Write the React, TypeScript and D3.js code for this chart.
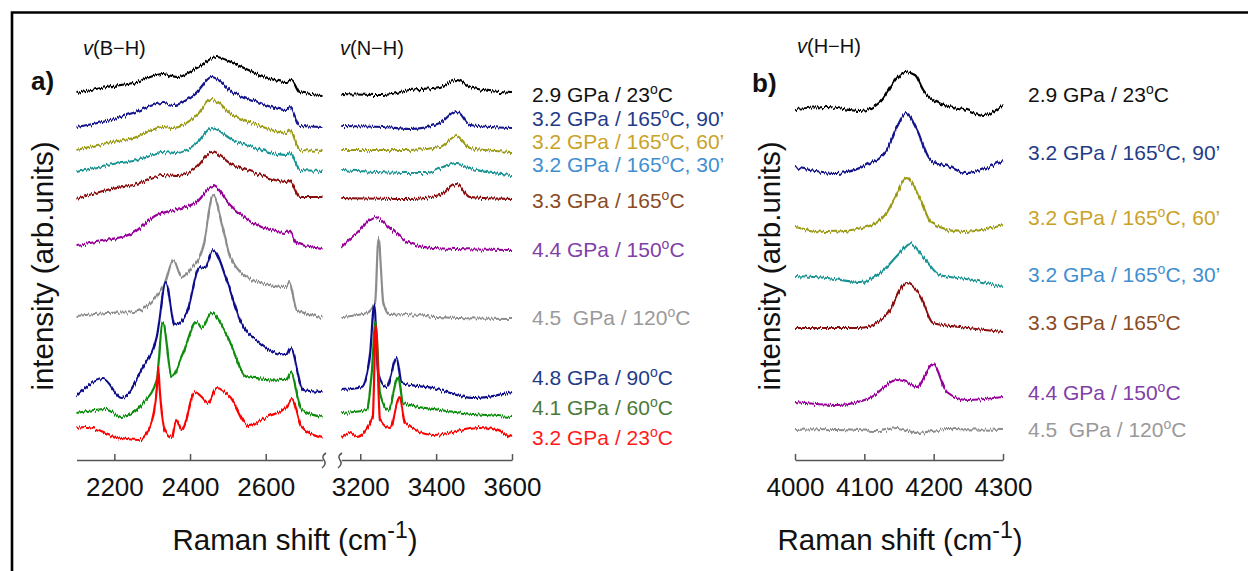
import React, { useEffect, useRef } from "react";
import * as d3 from "d3";

type P = [number, number];

// ---------- data: [Raman shift (cm-1), intensity (arb. units, stacked)] ----------
// panel a, v(B-H) region
const bhBlack: P[] = [[2100,367],[2180,373],[2250,377],[2329,386],[2366,383],[2418,392],[2470,403],[2513,397],[2566,388],[2655,378],[2669,380],[2690,368],[2750,365]];
const bhNavy90: P[] = [[2100,333],[2180,339],[2249,347],[2329,357],[2355,355],[2418,368],[2457,383],[2513,368],[2566,360],[2655,350],[2664,353],[2690,334],[2750,333]];
const bhOlive60: P[] = [[2100,310],[2180,317],[2250,322],[2329,333],[2355,332],[2418,345],[2457,361],[2513,345],[2566,337],[2655,327],[2664,330],[2690,310],[2750,309]];
const bhTeal30: P[] = [[2100,288],[2180,295],[2250,299],[2329,308],[2366,307],[2418,317],[2457,332],[2513,320],[2566,313],[2655,305],[2664,307],[2690,290],[2750,289]];
const bhRed165: P[] = [[2100,261],[2180,270],[2250,275],[2329,285],[2366,284],[2418,293],[2457,308],[2513,295],[2566,288],[2655,278],[2662,280],[2690,263],[2750,263]];
const bhPurple: P[] = [[2100,215],[2180,220],[2249,227],[2312,245],[2356,250],[2418,258],[2461,274],[2506,255],[2566,237],[2655,228],[2662,230],[2682,217],[2750,211]];
const bhGray: P[] = [[2100,144],[2180,147],[2250,148],[2303,160],[2334,177],[2356,200],[2378,183],[2400,190],[2435,213],[2461,265],[2488,230],[2506,203],[2566,180],[2655,173],[2662,178],[2682,150],[2750,143]];
const bhNavy48: P[] = [[2100,64],[2171,81],[2219,62],[2276,93],[2312,123],[2336,177],[2360,135],[2391,147],[2426,193],[2439,192],[2461,210],[2497,180],[2532,140],[2585,117],[2655,105],[2666,112],[2699,70],[2750,68]];
const bhGreen41: P[] = [[2100,47],[2180,51],[2219,43],[2276,57],[2312,80],[2328,138],[2352,83],[2378,103],[2418,138],[2431,132],[2457,147],[2497,125],[2550,83],[2655,80],[2666,88],[2695,50],[2750,43]];
const bhRed23: P[] = [[2100,32],[2127,33],[2206,23],[2263,20],[2294,33],[2305,48],[2312,70],[2316,92],[2320,70],[2326,45],[2333,30],[2352,23],[2363,40],[2378,30],[2413,68],[2431,63],[2448,57],[2470,72],[2506,63],[2554,35],[2602,43],[2655,53],[2669,61],[2695,33],[2750,22]];

// panel a, v(N-H) region
const nhBlack: P[] = [[3150,366],[3261,365],[3331,370],[3410,373],[3454,380],[3497,372],[3600,367]];
const nhNavy90: P[] = [[3150,334],[3261,333],[3331,331],[3410,337],[3454,349],[3489,335],[3600,332]];
const nhOlive60: P[] = [[3150,310],[3331,310],[3410,313],[3454,324],[3489,312],[3600,308]];
const nhTeal30: P[] = [[3150,290],[3331,287],[3375,287],[3418,293],[3454,297],[3497,291],[3600,285]];
const nhRed165: P[] = [[3150,262],[3331,261],[3410,265],[3454,276],[3489,263],[3600,261]];
const nhPurple: P[] = [[3150,213],[3199,230],[3239,243],[3278,232],[3331,217],[3392,212],[3600,210]];
const nhGray: P[] = [[3150,143],[3217,147],[3239,157],[3248,222],[3261,157],[3278,145],[3322,146],[3400,143],[3600,141]];
const nhNavy48: P[] = [[3150,70],[3204,73],[3225,103],[3237,155],[3247,87],[3269,73],[3296,102],[3309,77],[3392,72],[3497,62],[3600,68]];
const nhGreen41: P[] = [[3150,47],[3217,50],[3230,87],[3240,138],[3252,67],[3274,50],[3300,83],[3313,57],[3410,50],[3600,43]];
const nhRed23: P[] = [[3150,23],[3173,27],[3190,23],[3233,43],[3241,135],[3252,40],[3278,32],[3304,63],[3318,37],[3392,25],[3515,33],[3600,23]];

// panel b, v(H-H) region
const hhBlack: P[] = [[4000,351],[4046,353],[4094,349],[4123,358],[4147,382],[4159,388],[4173,385],[4185,370],[4204,358],[4248,350],[4272,345],[4300,355]];
const hhNavy90: P[] = [[4000,293],[4060,287],[4108,297],[4132,310],[4147,333],[4160,347],[4176,330],[4195,300],[4224,293],[4245,287],[4300,300]];
const hhOlive60: P[] = [[4000,233],[4046,228],[4103,233],[4132,247],[4144,262],[4161,282],[4180,262],[4197,237],[4243,228],[4300,235]];
const hhTeal30: P[] = [[4000,184],[4046,182],[4094,178],[4123,187],[4151,207],[4166,217],[4185,203],[4209,185],[4257,180],[4300,173]];
const hhRed165: P[] = [[4000,132],[4046,132],[4094,132],[4132,145],[4161,177],[4180,165],[4199,137],[4238,133],[4300,128]];
const hhPurple: P[] = [[4000,58],[4060,55],[4108,62],[4147,80],[4161,78],[4176,73],[4199,96],[4219,68],[4248,60],[4300,63]];
const hhGray: P[] = [[4000,30],[4060,31],[4120,29],[4147,32],[4176,27],[4220,31],[4300,30]];

const labels = [
  "2.9 GPa / 23^oC",
  "3.2 GPa / 165^oC, 90’",
  "3.2 GPa / 165^oC, 60’",
  "3.2 GPa / 165^oC, 30’",
  "3.3 GPa / 165^oC",
  "4.4 GPa / 150^oC",
  "4.5  GPa / 120^oC",
  "4.8 GPa / 90^oC",
  "4.1 GPa / 60^oC",
  "3.2 GPa / 23^oC",
];

const ticksBH = [2200, 2400, 2600];
const ticksNH = [3200, 3400, 3600];
const ticksHH = [4000, 4100, 4200, 4300];

// ---------- styles / layout ----------
const lineColors = ["#000000", "#14148c", "#9b9b18", "#1a9494", "#8c1010", "#990099", "#8c8c8c", "#10108c", "#0a8c0a", "#ff0000"];
const textColors = ["#111111", "#1f3c88", "#c9a227", "#3f8fd0", "#8a4a24", "#8040a8", "#999999", "#1f3c88", "#4a7a38", "#ff1a1a"];
const labelYA = [102, 126, 149, 172, 208, 257, 325, 385, 415, 445];
const labelYB = [102, 160, 225, 282, 330, 400, 437];

const FONT = "'Liberation Sans', Arial, Helvetica, sans-serif";
const W = 1248, H = 571;
const AXIS_Y = 460;

const y = d3.scaleLinear().domain([0, 400]).range([AXIS_Y, 60]);
const xBH = d3.scaleLinear().domain([2100, 2750]).range([76.5, 322.5]);
const xNH = d3.scaleLinear().domain([3150, 3600]).range([341.3, 512]);
const xHH = d3.scaleLinear().domain([4000, 4300]).range([795, 1003]);

const bhSeries = [bhBlack, bhNavy90, bhOlive60, bhTeal30, bhRed165, bhPurple, bhGray, bhNavy48, bhGreen41, bhRed23];
const nhSeries = [nhBlack, nhNavy90, nhOlive60, nhTeal30, nhRed165, nhPurple, nhGray, nhNavy48, nhGreen41, nhRed23];
const hhSeries = [hhBlack, hhNavy90, hhOlive60, hhTeal30, hhRed165, hhPurple, hhGray];

function mkLine(x: d3.ScaleLinear<number, number>) {
  return d3.line<P>().x((d) => x(d[0])).y((d) => y(d[1])).curve(d3.curveMonotoneX);
}

function Axis({ scale, ticks }: { scale: d3.ScaleLinear<number, number>; ticks: number[] }) {
  const ref = useRef<SVGGElement>(null);
  useEffect(() => {
    if (!ref.current) return;
    const g = d3.select(ref.current);
    g.selectAll("*").remove();
    g.call(
      d3.axisBottom(scale).tickValues(ticks).tickSizeInner(-6).tickSizeOuter(0).tickPadding(18).tickFormat(d3.format("d"))
    );
    g.select(".domain").attr("stroke", "#555").attr("stroke-width", 1.5);
    g.selectAll(".tick line").attr("stroke", "#555").attr("stroke-width", 1.5);
    g.selectAll(".tick text").attr("font-size", 26).attr("font-family", FONT).attr("fill", "#111");
  }, [scale, ticks]);
  return <g ref={ref} transform={`translate(0,${AXIS_Y})`} />;
}

function Label({ x, yy, text, color }: { x: number; yy: number; text: string; color: string }) {
  const [a, b] = text.split("^o");
  return (
    <text x={x} y={yy} fill={color} fontSize={21} fontFamily={FONT} style={{ whiteSpace: "pre" }}>
      {a}
      <tspan fontSize={14} dy={-8}>o</tspan>
      <tspan dy={8}>{b}</tspan>
    </text>
  );
}

function BreakMark({ x }: { x: number }) {
  const p = `M${x + 2},${AXIS_Y - 7} Q${x - 3},${AXIS_Y - 4} ${x},${AXIS_Y} Q${x + 3},${AXIS_Y + 4} ${x - 2},${AXIS_Y + 8}`;
  return <path d={p} fill="none" stroke="#555" strokeWidth={1.5} />;
}

export default function App() {
  const lBH = mkLine(xBH);
  const lNH = mkLine(xNH);
  const lHH = mkLine(xHH);
  return (
    <svg width={W} height={H} style={{ position: "absolute", left: 0, top: 0, background: "#fff" }} fontFamily={FONT}>
      <defs>
        <filter id="noisy" x="-3%" y="-10%" width="106%" height="120%">
          <feTurbulence type="fractalNoise" baseFrequency="0.7 0.015" numOctaves={2} seed={4} result="t" />
          <feColorMatrix in="t" type="matrix" values="0 0 0 0 0.5  0 2.2 0 0 -0.6  0 0 0 0 0  0 0 0 0 1" result="m" />
          <feDisplacementMap in="SourceGraphic" in2="m" scale={3} xChannelSelector="R" yChannelSelector="G" />
        </filter>
      </defs>
      <rect x={0} y={0} width={W} height={H} fill="#fff" />
      {/* frame */}
      <path d={`M12,${H + 5} V12.5 H${W + 5}`} fill="none" stroke="#000" strokeWidth={2.6} />

      {/* panel a */}
      <text x={31} y={90} fontSize={26} fontWeight="bold" fill="#111">a)</text>
      <text x={83} y={55} fontSize={20} fill="#111"><tspan fontStyle="italic">v</tspan>(B−H)</text>
      <text x={340} y={55} fontSize={20} fill="#111"><tspan fontStyle="italic">v</tspan>(N−H)</text>
      <text transform="translate(53,266) rotate(-90)" textAnchor="middle" fontSize={29.5} fill="#111">intensity (arb.units)</text>

      <g filter="url(#noisy)">
        {bhSeries.map((s, i) => (
          <path key={"bh" + i} d={lBH(s) || ""} fill="none" stroke={lineColors[i]} strokeWidth={2.2} />
        ))}
        {nhSeries.map((s, i) => (
          <path key={"nh" + i} d={lNH(s) || ""} fill="none" stroke={lineColors[i]} strokeWidth={2.2} />
        ))}
      </g>
      <Axis scale={xBH} ticks={ticksBH} />
      <Axis scale={xNH} ticks={ticksNH} />
      <BreakMark x={324} />
      <BreakMark x={340} />
      {labels.map((t, i) => (
        <Label key={"la" + i} x={532} yy={labelYA[i]} text={t} color={textColors[i]} />
      ))}
      <text x={295} y={550} textAnchor="middle" fontSize={29.5} fill="#111">
        Raman shift (cm<tspan fontSize={23} dy={-12}>-1</tspan><tspan dy={12}>)</tspan>
      </text>

      {/* panel b */}
      <text x={752} y={92} fontSize={26} fontWeight="bold" fill="#111">b)</text>
      <text x={797} y={53} fontSize={20} fill="#111"><tspan fontStyle="italic">v</tspan>(H−H)</text>
      <text transform="translate(780,266) rotate(-90)" textAnchor="middle" fontSize={29.5} fill="#111">intensity (arb.units)</text>
      <g filter="url(#noisy)">
        {hhSeries.map((s, i) => (
          <path key={"hh" + i} d={lHH(s) || ""} fill="none" stroke={lineColors[i]} strokeWidth={2.2} />
        ))}
      </g>
      <Axis scale={xHH} ticks={ticksHH} />
      {labels.slice(0, 7).map((t, i) => (
        <Label key={"lb" + i} x={1028} yy={labelYB[i]} text={t} color={textColors[i]} />
      ))}
      <text x={900} y={550} textAnchor="middle" fontSize={29.5} fill="#111">
        Raman shift (cm<tspan fontSize={23} dy={-12}>-1</tspan><tspan dy={12}>)</tspan>
      </text>
    </svg>
  );
}
